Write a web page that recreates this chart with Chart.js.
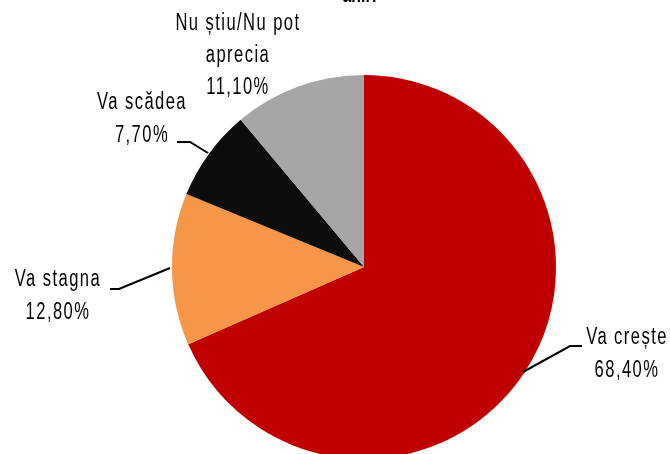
<!DOCTYPE html>
<html>
<head>
<meta charset="utf-8">
<script src="https://cdn.jsdelivr.net/npm/chart.js@4/dist/chart.umd.min.js"></script>
<style>
  html, body { margin: 0; padding: 0; background: #fff; overflow: hidden; }
  #wrap { position: relative; width: 670px; height: 470px; }
</style>
</head>
<body>
<div id="wrap"><canvas id="pie"></canvas></div>
<script>
// datele graficului
const categorii = ['Va crește', 'Va stagna', 'Va scădea', 'Nu știu/Nu pot aprecia']
const valori = [68.4, 12.8, 7.7, 11.1]
const etichete = ['68,40%', '12,80%', '7,70%', '11,10%']
const culori = ['#C00000', '#F79646', '#0D0D0D', '#A6A6A6']

// pozitiile etichetelor (text pe linii, centru x, y pentru fiecare rand)
const etichetePoz = [
    { linii: ['Va crește', etichete[0]], x: 627, y: 338, linie: [[582, 346], [570, 346], [523, 372]] },
    { linii: ['Va stagna', etichete[1]], x: 58, y: 280, linie: [[110, 289], [119, 289], [170, 268]] },
    { linii: ['Va scădea', etichete[2]], x: 142, y: 103, linie: [[177, 142], [190, 142], [208, 153]] },
    { linii: ['Nu știu/Nu pot', 'aprecia', etichete[3]], x: 238, y: 24, linie: null }
]

// text ingust, ca Arial Narrow
const scrieIngust = (ctx, text, x, y) => {
    ctx.save()
    ctx.translate(x, y)
    ctx.scale(0.72, 1)
    ctx.fillText(text, 0, 0)
    ctx.restore()
}

// plugin care deseneaza etichetele cu liniile de legatura
const etichetePlugin = {
    id: 'etichete',
    afterDraw(chart) {
        const ctx = chart.ctx
        ctx.save()
        ctx.fillStyle = '#000'
        ctx.textAlign = 'center'
        // fragmentul de titlu taiat sus
        ctx.font = 'bold 22px "Liberation Sans", Arial, sans-serif'
        ctx.textBaseline = 'alphabetic'
        scrieIngust(ctx, 'anii?', 361, 2)

        ctx.font = '23px "Liberation Sans", Arial, sans-serif'
        ctx.letterSpacing = '2px'
        ctx.textBaseline = 'middle'
        etichetePoz.forEach((e) => {
            const pas = e.linii.length === 3 ? 32 : 33
            e.linii.forEach((t, i) => {
                scrieIngust(ctx, t, e.x, e.y + i * pas)
            })
            if (e.linie) {
                ctx.beginPath()
                ctx.strokeStyle = '#000'
                ctx.lineWidth = 2
                e.linie.forEach((p, i) => i === 0 ? ctx.moveTo(p[0], p[1]) : ctx.lineTo(p[0], p[1]))
                ctx.stroke()
            }
        })
        ctx.restore()
    }
}

new Chart(document.getElementById('pie'), {
    type: 'pie',
    data: {
        labels: categorii,
        datasets: [{
            data: valori,
            backgroundColor: culori,
            borderWidth: 0
        }]
    },
    options: {
        responsive: true,
        maintainAspectRatio: false,
        animation: false,
        layout: { padding: { top: 75, bottom: 11, left: 172, right: 114 } },
        plugins: {
            legend: { display: false },
            tooltip: { enabled: false },
            title: { display: false }
        }
    },
    plugins: [etichetePlugin]
})
</script>
</body>
</html>
